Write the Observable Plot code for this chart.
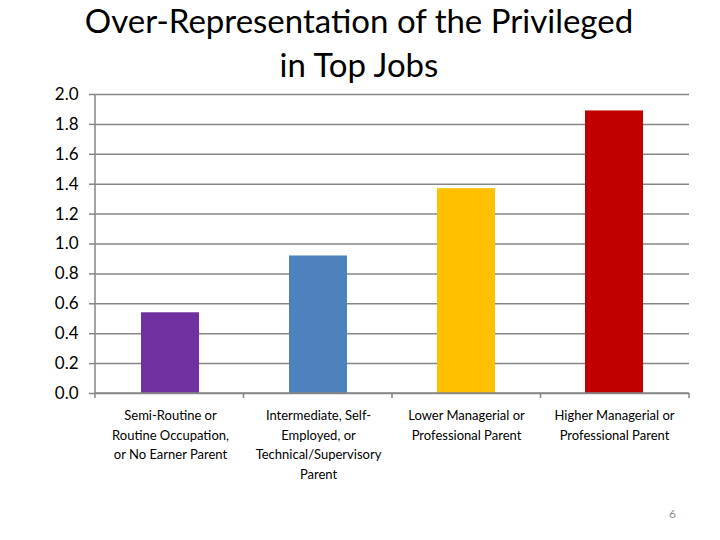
<!DOCTYPE html>
<html><head><meta charset="utf-8">
<script src="https://cdn.jsdelivr.net/npm/d3@7"></script>
<script src="https://cdn.jsdelivr.net/npm/@observablehq/plot@0.6"></script>
<style>
body{margin:0;background:#fff;width:720px;height:540px;position:relative;overflow:hidden;font-family:Lato,sans-serif}
#title{height:84px;font-size:33px;line-height:44px;text-align:center;color:#000;margin-top:-2px;position:relative;left:-1px}
#page{position:absolute;left:669px;top:506px;font-size:12px;color:#8c8c8c}
</style></head><body>
<div id="title">Over-Representation of the Privileged<br>in Top Jobs</div>
<div id="chart" style="margin-top:4px"></div>
<div id="page"></div>
<script>
const categories = [
  "Semi-Routine or Routine Occupation, or No Earner Parent",
  "Intermediate, Self-Employed, or Technical/Supervisory Parent",
  "Lower Managerial or Professional Parent",
  "Higher Managerial or Professional Parent"
];
const tickLabels = [
  "Semi-Routine or\nRoutine Occupation,\nor No Earner Parent",
  "Intermediate, Self-\nEmployed, or\nTechnical/Supervisory\nParent",
  "Lower Managerial or\nProfessional Parent",
  "Higher Managerial or\nProfessional Parent"
];
const values = [0.54, 0.92, 1.37, 1.89];
const colors = ["#7030A0", "#4F81BD", "#FFC000", "#C00000"];
const yTicks = [0, 0.2, 0.4, 0.6, 0.8, 1.0, 1.2, 1.4, 1.6, 1.8, 2.0];
const pageNumber = "6";

document.getElementById("page").textContent = pageNumber;
const data = categories.map((c, i) => ({category: c, value: values[i], color: colors[i]}));
const gridColor = "#868686";

const plot = Plot.plot({
  width: 720, height: 450,
  marginTop: 8, marginBottom: 143, marginLeft: 95, marginRight: 31,
  style: {fontFamily: "Lato, sans-serif", background: "#fff", color: "#000", overflow: "visible"},
  x: {domain: categories, paddingInner: 0.61, paddingOuter: 0.305, label: null},
  y: {domain: [0, 2], label: null},
  marks: [
    Plot.gridY(yTicks, {stroke: gridColor, strokeOpacity: 1, strokeWidth: 1.5}),
    Plot.axisY(yTicks, {tickSize: 6, stroke: gridColor, strokeWidth: 1.5, tickPadding: 11, fontSize: 17, fill: "#000", tickFormat: d => d.toFixed(1), label: null}),
    Plot.barY(data, {x: "category", y: "value", fill: "color"}),
    Plot.axisX({tickSize: 0, tickPadding: 13, fontSize: 13, lineHeight: 1.5, fill: "#000", tickFormat: d => tickLabels[categories.indexOf(d)], label: null})
  ]
});

// y axis line and category boundary ticks, derived from the scales
const xs = plot.scale("x"), ys = plot.scale("y");
const [r0, r1] = xs.range;
const step = (r1 - r0) / categories.length;
const y0 = ys.apply(0), yTop = ys.apply(2);
const g = d3.select(plot).append("g").attr("stroke", gridColor).attr("stroke-width", 1.5);
g.append("line").attr("x1", r0).attr("x2", r0).attr("y1", yTop).attr("y2", y0 + 5);
g.append("line").attr("x1", r0).attr("x2", r1).attr("y1", y0).attr("y2", y0);
for (let i = 1; i <= categories.length; i++) {
  const x = r0 + i * step;
  g.append("line").attr("x1", x).attr("x2", x).attr("y1", y0).attr("y2", y0 + 5);
}
document.getElementById("chart").appendChild(plot);
</script>
</body></html>
